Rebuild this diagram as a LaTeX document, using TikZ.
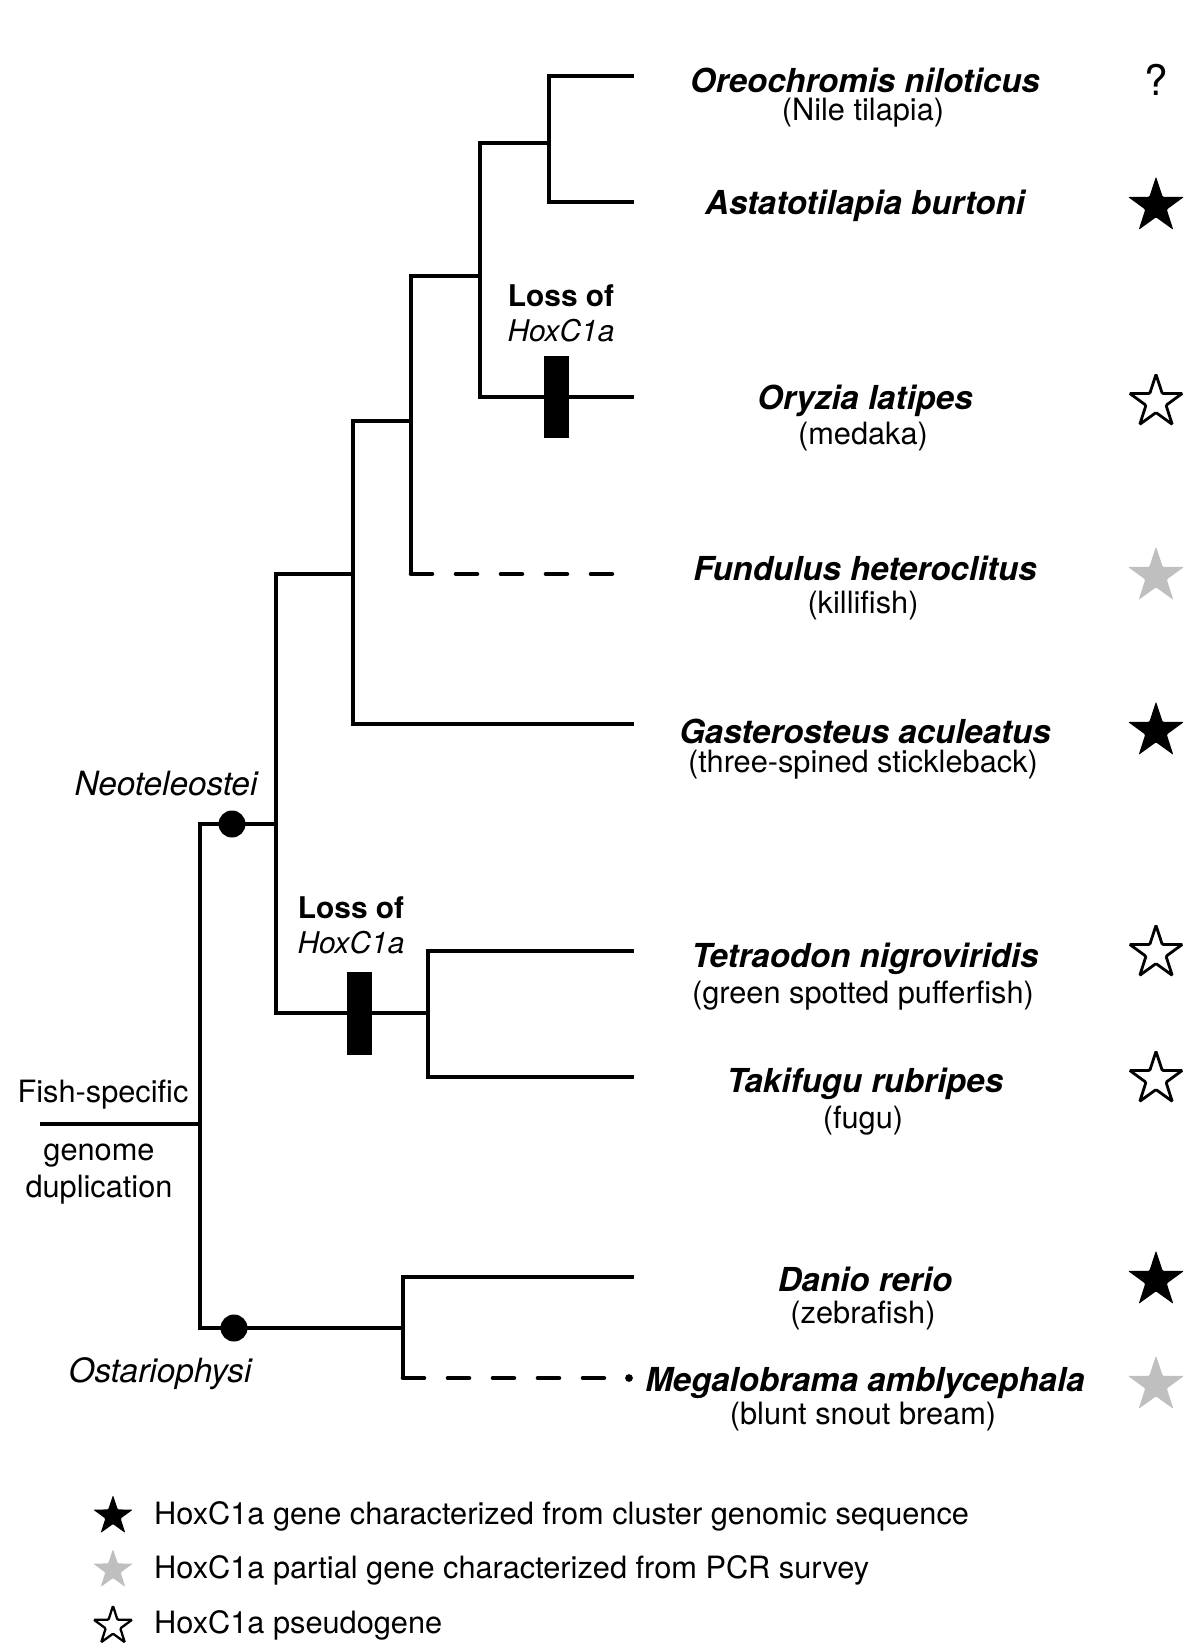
\documentclass[tikz,border=0pt]{standalone}
\usepackage{fontspec}
\setmainfont{TeX Gyre Heros}
\usetikzlibrary{shapes.geometric}
\tikzstyle{branch}=[line width=2.6pt]
\tikzstyle{missing}=[line width=2.6pt, line cap=round, dash pattern=on 0.42cm off 0.48cm]
\tikzstyle{species}=[font=\fontsize{18.8}{21}\selectfont\bfseries\itshape]
\tikzstyle{common}=[font=\fontsize{17.5}{20}\selectfont]
\tikzstyle{clade}=[font=\fontsize{19}{22}\selectfont\itshape]
\tikzstyle{cladedot}=[circle, fill=black, inner sep=0pt, minimum size=0.54cm]
\tikzstyle{lossbar}=[rectangle, fill=black, inner sep=0pt, minimum width=0.5cm, minimum height=1.66cm]
\tikzstyle{losstext}=[font=\fontsize{17}{20}\selectfont, align=center]
\tikzstyle{hoxmark}=[star, star points=5, star point ratio=2.6, inner sep=0pt, minimum size=1.18cm, rounded corners=0.6pt]
\tikzstyle{found}=[hoxmark, fill=black]
\tikzstyle{pcr}=[hoxmark, fill=black!25]
\tikzstyle{pseudo}=[hoxmark, draw=black, line width=1.6pt, fill=white, minimum size=1.1cm]
\tikzstyle{keystar}=[minimum size=0.84cm]

\begin{document}
\begin{tikzpicture}[x=0.02cm, y=-0.02cm]
    \useasboundingbox (0,0) rectangle (1200,1650);
    % internal nodes and tips
    \coordinate (root) at (40,1124);
    \coordinate (fsgd) at (200,1124);
    \coordinate (neo) at (276,824);
    \coordinate (ost) at (403,1328);
    \coordinate (n1) at (353,574);
    \coordinate (n2) at (411,421);
    \coordinate (n3) at (480,276);
    \coordinate (n4) at (549,143);
    \coordinate (puff) at (428,1013);
    \coordinate (ore) at (634,76);
    \coordinate (ast) at (634,202);
    \coordinate (ory) at (634,397);
    \coordinate (fun) at (616,574);
    \coordinate (gas) at (634,724);
    \coordinate (tet) at (634,951);
    \coordinate (tak) at (634,1077);
    \coordinate (dan) at (634,1277);
    \coordinate (meg) at (616,1378);

    \draw[branch] (root) -- (fsgd);
    \draw[branch] (fsgd) |- (neo);
    \draw[branch] (fsgd) |- (ost);
    \draw[branch] (neo) |- (n1);
    \draw[branch] (neo) |- (puff);
    \draw[branch] (n1) |- (gas);
    \draw[branch] (n1) |- (n2);
    \draw[branch] (n2) -- (n2 |- fun);
    \draw[missing] (n2 |- fun) -- (fun);
    \draw[branch] (n2) |- (n3);
    \draw[branch] (n3) |- (ory);
    \draw[branch] (n3) |- (n4);
    \draw[branch] (n4) |- (ore);
    \draw[branch] (n4) |- (ast);
    \draw[branch] (puff) |- (tet);
    \draw[branch] (puff) |- (tak);
    \draw[branch] (ost) |- (dan);
    \draw[branch] (ost) -- (ost |- meg);
    \draw[missing] (ost |- meg) -- (meg);
    \fill (629,1378) circle (2.2pt);

    \node[cladedot] (neodot) at (232,824) {};
    \node[cladedot] (ostdot) at (234,1328) {};
    \node[clade] (neolabel) at (166,784) {Neoteleostei};
    \node[clade] (ostlabel) at (160,1374) {Ostariophysi};
    \node[common] (fs) at (103,1095) {Fish-specific};
    \node[common, align=center, font=\fontsize{17.5}{21}\selectfont] (gd) at (99,1174) {genome\\duplication};

    \node[lossbar] (loss1) at (556,397) {};
    \node[lossbar] (loss2) at (359,1013) {};
    \node[losstext] (loss1text) at (561,313) {\textbf{Loss of}\\\textit{HoxC1a}};
    \node[losstext] (loss2text) at (351,925) {\textbf{Loss of}\\\textit{HoxC1a}};

    % species names
    \path
    (865,80) node[species] (orename) {Oreochromis niloticus}
    (863,113) node[common] (orecom) {(Nile tilapia)}
    (865,206) node[species] (astname) {Astatotilapia burtoni}
    (865,401) node[species] (oryname) {Oryzia latipes}
    (863,437) node[common] (orycom) {(medaka)}
    (865,568) node[species] (funname) {Fundulus heteroclitus}
    (863,605) node[common] (funcom) {(killifish)}
    (865,731) node[species] (gasname) {Gasterosteus aculeatus}
    (863,765) node[common] (gascom) {(three-spined stickleback)}
    (865,959) node[species] (tetname) {Tetraodon nigroviridis}
    (863,996) node[common] (tetcom) {(green spotted pufferfish)}
    (865,1084) node[species] (takname) {Takifugu rubripes}
    (863,1121) node[common] (takcom) {(fugu)}
    (865,1279) node[species] (danname) {Danio rerio}
    (863,1315) node[common] (dancom) {(zebrafish)}
    (865,1383) node[species] (megname) {Megalobrama amblycephala}
    (863,1417) node[common] (megcom) {(blunt snout bream)};

    % HoxC1a status
    \node[font=\fontsize{24}{26}\selectfont] (oremark) at (1156,80) {?};
    \node[found] (astmark) at (1156,206) {};
    \node[pseudo] (orymark) at (1156,402) {};
    \node[pcr] (funmark) at (1156,576) {};
    \node[found] (gasmark) at (1156,731) {};
    \node[pseudo] (tetmark) at (1156,953) {};
    \node[pseudo] (takmark) at (1156,1079) {};
    \node[found] (danmark) at (1156,1280) {};
    \node[pcr] (megmark) at (1156,1385) {};

    % key
    \node[found, keystar] (key1) at (113,1516) {};
    \node[pcr, keystar] (key2) at (113,1570) {};
    \node[pseudo, keystar, line width=1.3pt, minimum size=0.8cm] (key3) at (113,1626) {};
    \node[common, anchor=west] (key1text) at (148,1516) {HoxC1a gene characterized from cluster genomic sequence};
    \node[common, anchor=west] (key2text) at (148,1570) {HoxC1a partial gene characterized from PCR survey};
    \node[common, anchor=west] (key3text) at (148,1625) {HoxC1a pseudogene};
\end{tikzpicture}
\end{document}
